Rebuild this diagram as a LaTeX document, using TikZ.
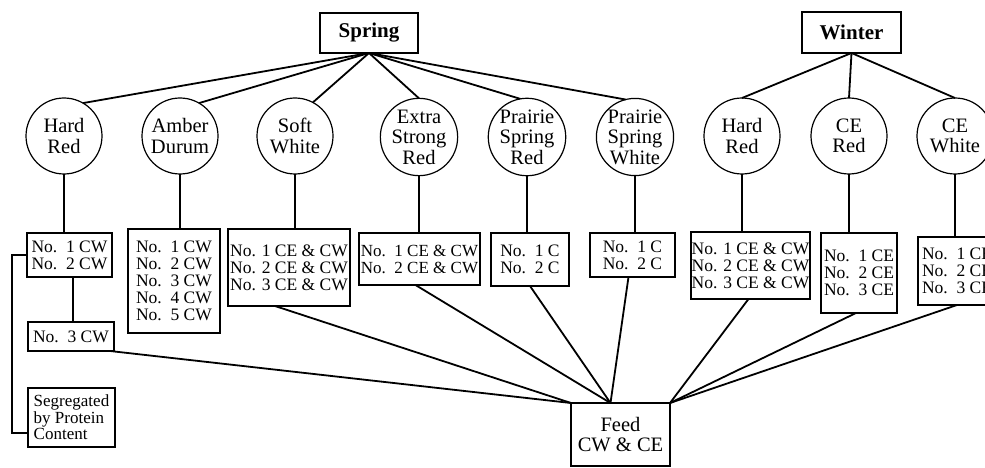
\documentclass[tikz,border=0pt]{standalone}
\usepackage{fontspec}
\setmainfont{Liberation Serif}
\begin{document}
\begin{tikzpicture}[x=1pt,y=-1pt,
  every node/.style={inner sep=0pt, outer sep=0pt},
  ln/.style={line width=1.8pt},
  topbox/.style={draw, line width=1.9pt, font=\bfseries\fontsize{21}{21}\selectfont},
  cls/.style={draw, circle, line width=1.2pt, minimum size=76pt, align=center, font=\fontsize{20.5}{20.5}\selectfont},
  gbox/.style={draw, line width=1.8pt, align=center, font=\fontsize{17.5}{17}\selectfont},
]
\clip (0,0) rectangle (985,468);
\fill[white] (0,0) rectangle (985,468);

% top boxes
\node[topbox, minimum width=98pt, minimum height=40pt] (spring) at (369,33) {Spring};
\node[topbox, minimum width=99pt, minimum height=41pt] (winter) at (851.5,32.5) {Winter};

% circles
\node[cls] (hr)  at (64,136)  {Hard\\Red};
\node[cls] (ad)  at (180,136) {Amber\\Durum};
\node[cls] (sw)  at (295,136) {Soft\\White};
\node[cls] (esr) at (419,137) {Extra\\Strong\\Red};
\node[cls] (psr) at (527,137) {Prairie\\Spring\\Red};
\node[cls] (psw) at (635,137) {Prairie\\Spring\\White};
\node[cls] (whr) at (742,136) {Hard\\Red};
\node[cls] (cer) at (849,136) {CE\\Red};
\node[cls] (cew) at (955,136) {CE\\White};

% grade boxes
\node[gbox, minimum width=85pt, minimum height=44pt] (b1) at (69.5,255) {No.\ \ 1 CW\\No.\ \ 2 CW};
\node[gbox, minimum width=86pt, minimum height=29pt] (b2) at (71,336.5) {No.\ \ 3 CW};
\node[gbox, minimum width=87pt, minimum height=59pt, align=left, font=\fontsize{17}{16.5}\selectfont] (seg) at (71.5,417.5) {Segregated\\by Protein\\Content};
\node[gbox, minimum width=92pt, minimum height=104pt] (adb) at (174,281) {No.\ \ 1 CW\\No.\ \ 2 CW\\No.\ \ 3 CW\\No.\ \ 4 CW\\No.\ \ 5 CW};
\node[gbox, minimum width=122pt, minimum height=77pt] (swb) at (289,267.5) {No. 1 CE \& CW\\No. 2 CE \& CW\\No. 3 CE \& CW};
\node[gbox, minimum width=121pt, minimum height=52pt, font=\fontsize{17}{17}\selectfont] (esrb) at (419.5,259) {No.\ \ 1 CE \& CW\\No.\ \ 2 CE \& CW};
\node[gbox, minimum width=78pt, minimum height=53pt] (psrb) at (530,259.5) {No.\ \ 1 C\\No.\ \ 2 C};
\node[gbox, minimum width=85pt, minimum height=44pt] (pswb) at (632.5,255) {No.\ \ 1 C\\No.\ \ 2 C};
\node[gbox, minimum width=119pt, minimum height=67pt] (whrb) at (750.5,265.5) {No. 1 CE \& CW\\No. 2 CE \& CW\\No. 3 CE \& CW};
\node[gbox, minimum width=76pt, minimum height=80pt] (cerb) at (859,273) {No.\ \ 1 CE\\No.\ \ 2 CE\\No.\ \ 3 CE};
\node[gbox, minimum width=78pt, minimum height=68pt] (cewb) at (957,271) {No.\ \ 1 CE\\No.\ \ 2 CE\\No.\ \ 3 CE};

% feed
\node[gbox, minimum width=99pt, minimum height=63pt, font=\fontsize{20.5}{20}\selectfont] (feed) at (620.5,434.5) {Feed\\CW \& CE};
\coordinate (fmid) at ([xshift=-10pt]feed.north);

% spring connectors
\draw[ln] (spring.south) -- (hr.60);
\draw[ln] (spring.south) -- (ad.60);
\draw[ln] (spring.south) -- (sw.62);
\draw[ln] (spring.south) -- (esr.90);
\draw[ln] (spring.south) -- (psr.100);
\draw[ln] (spring.south) -- (psw.104);
% winter connectors
\draw[ln] (winter.south) -- (whr.90);
\draw[ln] (winter.south) -- (cer.90);
\draw[ln] (winter.south) -- (cew.90);

% circles to boxes
\draw[ln] (hr.south) -- (hr.south |- b1.north);
\draw[ln] (ad.south) -- (ad.south |- adb.north);
\draw[ln] (sw.south) -- (sw.south |- swb.north);
\draw[ln] (esr.south) -- (esr.south |- esrb.north);
\draw[ln] (psr.south) -- (psr.south |- psrb.north);
\draw[ln] (psw.south) -- (psw.south |- pswb.north);
\draw[ln] (whr.south) -- (whr.south |- whrb.north);
\draw[ln] (cer.south) -- (cer.south |- cerb.north);
\draw[ln] (cew.south) -- (cew.south |- cewb.north);

% hard red chain
\draw[ln] ([xshift=3.5pt]b1.south) -- ([xshift=3.5pt]b1.south |- b2.north);
\draw[ln] (b1.west) -- ++(-15,0) |- ([yshift=-15.5pt]seg.west);

% to feed
\draw[ln] ([xshift=-4pt]b2.south east) -- (feed.north west);
\draw[ln] ([xshift=-14pt]swb.south) -- (feed.north west);
\draw[ln] ([xshift=-4pt]esrb.south) -- (fmid);
\draw[ln] (psrb.south) -- (fmid);
\draw[ln] ([xshift=-4pt]pswb.south) -- (fmid);
\draw[ln] ([xshift=-2pt]whrb.south) -- (feed.north east);
\draw[ln] ([xshift=-3pt]cerb.south) -- (feed.north east);
\draw[ln] (cewb.south) -- (feed.north east);
\end{tikzpicture}
\end{document}
